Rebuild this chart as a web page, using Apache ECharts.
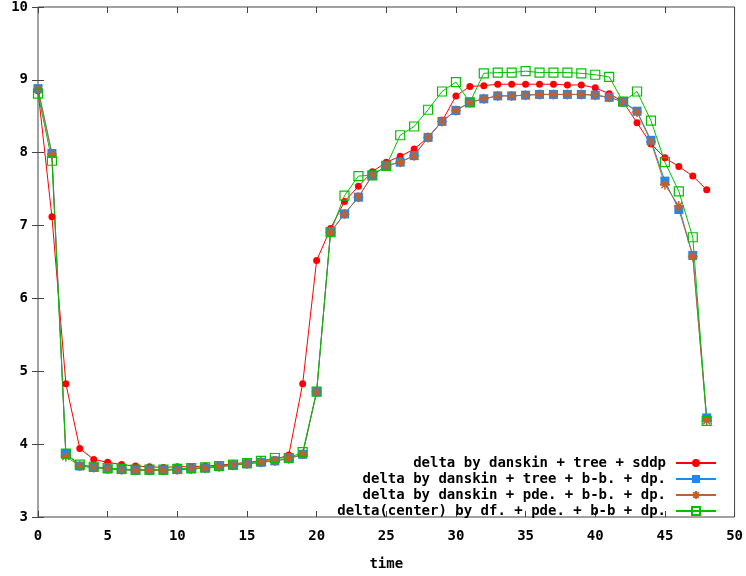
<!DOCTYPE html>
<html>
<head>
<meta charset="utf-8">
<script src="https://cdn.jsdelivr.net/npm/echarts@6/dist/echarts.min.js"></script>
<style>
  html, body { margin: 0; padding: 0; background: #fff; }
  #chart { width: 746px; height: 576px; }
</style>
</head>
<body>
<div id="chart"></div>
<script>
const time = [0, 1, 2, 3, 4, 5, 6, 7, 8, 9, 10, 11, 12, 13, 14, 15, 16, 17, 18, 19, 20,
  21, 22, 23, 24, 25, 26, 27, 28, 29, 30, 31, 32, 33, 34, 35, 36, 37, 38, 39, 40,
  41, 42, 43, 44, 45, 46, 47, 48]

const seriesNames = [
  'delta by danskin + tree + sddp',
  'delta by danskin + tree + b-b. + dp.',
  'delta by danskin + pde. + b-b. + dp.',
  'delta(center) by df. + pde. + b-b + dp.'
]

const sddp = [8.85, 7.12, 4.83, 3.94, 3.79, 3.75, 3.72, 3.70, 3.69, 3.68, 3.69, 3.69, 3.70, 3.71,
  3.73, 3.75, 3.77, 3.79, 3.85, 4.83, 6.52, 6.96, 7.33, 7.54, 7.74, 7.87, 7.95, 8.05, 8.21,
  8.43, 8.78, 8.91, 8.92, 8.94, 8.94, 8.94, 8.94, 8.94, 8.93, 8.93, 8.89, 8.81, 8.70, 8.41,
  8.12, 7.93, 7.81, 7.68, 7.49]

const treeBb = [8.88, 7.99, 3.87, 3.70, 3.68, 3.66, 3.65, 3.64, 3.64, 3.64, 3.65, 3.66, 3.67, 3.69,
  3.71, 3.73, 3.75, 3.77, 3.80, 3.86, 4.72, 6.91, 7.16, 7.39, 7.69, 7.82, 7.87, 7.96, 8.21,
  8.43, 8.58, 8.69, 8.74, 8.78, 8.78, 8.79, 8.80, 8.80, 8.80, 8.80, 8.79, 8.76, 8.70, 8.57,
  8.17, 7.61, 7.22, 6.59, 4.36]

const pdeBb = [8.87, 7.98, 3.83, 3.70, 3.68, 3.66, 3.65, 3.64, 3.64, 3.64, 3.65, 3.66, 3.67, 3.69,
  3.71, 3.73, 3.75, 3.77, 3.80, 3.86, 4.72, 6.91, 7.16, 7.39, 7.69, 7.82, 7.87, 7.96, 8.21,
  8.43, 8.58, 8.69, 8.74, 8.78, 8.78, 8.79, 8.80, 8.80, 8.80, 8.80, 8.79, 8.76, 8.70, 8.56,
  8.15, 7.56, 7.27, 6.58, 4.32]

const center = [8.81, 7.89, 3.87, 3.72, 3.69, 3.67, 3.66, 3.65, 3.65, 3.65, 3.66, 3.67, 3.68, 3.70,
  3.72, 3.74, 3.77, 3.81, 3.81, 3.89, 4.72, 6.91, 7.41, 7.68, 7.69, 7.82, 8.24, 8.36, 8.59,
  8.84, 8.97, 8.69, 9.09, 9.10, 9.10, 9.12, 9.10, 9.10, 9.10, 9.09, 9.07, 9.04, 8.70, 8.84,
  8.44, 7.87, 7.47, 6.84, 4.32]

const xTicks = { min: 0, max: 50, interval: 5 }
const yTicks = { min: 3, max: 10, interval: 1 }

const pair = (ys) => time.map((t, i) => [t, ys[i]])

const monoFont = '"DejaVu Sans Mono", "Liberation Mono", monospace'
const axisColor = '#444'

const tickStyle = { show: true, inside: true, length: 6, lineStyle: { color: axisColor } }
const labelStyle = { color: '#000', fontFamily: monoFont, fontWeight: 'bold', fontSize: 14 }

// gnuplot style asterisk
const starPath = 'path://M0,5L10,5M5,0L5,10M1.5,1.5L8.5,8.5M1.5,8.5L8.5,1.5'

const chart = echarts.init(document.getElementById('chart'))

chart.setOption({
  animation: false,
  backgroundColor: '#fff',
  grid: {
    left: 38, right: 11, top: 4, bottom: 54,
    show: true, borderColor: axisColor, borderWidth: 1
  },
  legend: {
    orient: 'vertical',
    right: 24,
    top: 450,
    align: 'right',
    itemWidth: 40,
    itemHeight: 10,
    itemGap: 0,
    textStyle: {
      fontFamily: monoFont, fontWeight: 'bold', fontSize: 14,
      color: '#000', lineHeight: 16, padding: [0, 5, 0, 0]
    },
    data: seriesNames
  },
  xAxis: [
    {
      type: 'value', position: 'bottom', ...xTicks,
      name: 'time', nameLocation: 'middle', nameGap: 40,
      nameTextStyle: { ...labelStyle },
      axisLine: { show: false },
      axisTick: tickStyle,
      splitLine: { show: false },
      axisLabel: { ...labelStyle, margin: 12 }
    },
    {
      type: 'value', position: 'top', ...xTicks,
      axisLine: { show: false },
      axisTick: tickStyle,
      splitLine: { show: false },
      axisLabel: { show: false }
    }
  ],
  yAxis: [
    {
      type: 'value', position: 'left', ...yTicks,
      axisLine: { show: false },
      axisTick: tickStyle,
      splitLine: { show: false },
      axisLabel: { ...labelStyle, margin: 10 }
    },
    {
      type: 'value', position: 'right', ...yTicks,
      axisLine: { show: false },
      axisTick: tickStyle,
      splitLine: { show: false },
      axisLabel: { show: false }
    }
  ],
  series: [
    {
      name: seriesNames[0],
      type: 'line',
      data: pair(sddp),
      symbol: 'circle',
      symbolSize: 7,
      lineStyle: { color: '#ff0000', width: 1 },
      itemStyle: { color: '#ff0000' }
    },
    {
      name: seriesNames[1],
      type: 'line',
      data: pair(treeBb),
      symbol: 'rect',
      symbolSize: 9,
      lineStyle: { color: '#1e88f0', width: 1 },
      itemStyle: { color: '#1e88f0' }
    },
    {
      name: seriesNames[2],
      type: 'line',
      data: pair(pdeBb),
      symbol: starPath,
      symbolSize: 10,
      lineStyle: { color: '#c0622f', width: 1 },
      itemStyle: { color: '#c0622f', borderColor: '#c0622f', borderWidth: 1.5 }
    },
    {
      name: seriesNames[3],
      type: 'line',
      data: pair(center),
      symbol: 'rect',
      symbolSize: 9,
      lineStyle: { color: '#00c000', width: 1 },
      itemStyle: { color: 'rgba(0,0,0,0)', borderColor: '#00c000', borderWidth: 1.2 }
    }
  ]
})
</script>
</body>
</html>
